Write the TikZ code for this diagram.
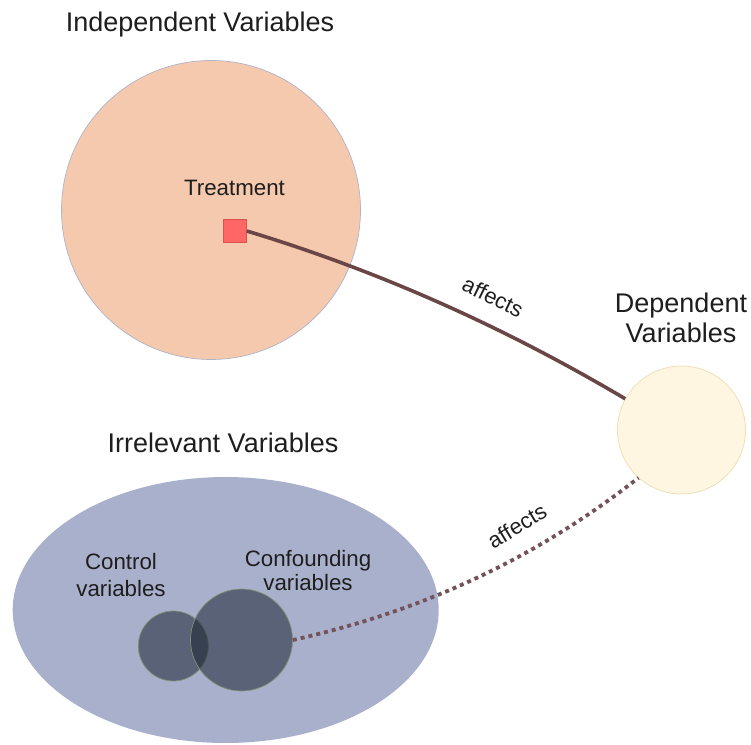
\documentclass[tikz,border=0pt]{standalone}
\usepackage{fontspec}
\setmainfont{Liberation Sans}
\usetikzlibrary{shapes.geometric}

\definecolor{textgray}{HTML}{1E1E1E}
\definecolor{indepfill}{HTML}{F5C9AE}
\definecolor{indepline}{HTML}{AEB3C8}
\definecolor{treatfill}{HTML}{FF6666}
\definecolor{treatline}{HTML}{D9534F}
\definecolor{depfill}{HTML}{FEF6E1}
\definecolor{depline}{HTML}{EADDB0}
\definecolor{irrfill}{HTML}{A9B0CB}
\definecolor{subfill}{HTML}{1C2635}
\definecolor{subline}{HTML}{7F9478}
\definecolor{linkcol}{HTML}{6A4646}
\definecolor{dotcol}{HTML}{74525A}

\begin{document}
\begin{tikzpicture}[x=1pt,y=1pt,
  heading/.style={font=\fontsize{27}{31}\selectfont, text=textgray, anchor=base},
  caption/.style={font=\fontsize{22.3}{26}\selectfont, text=textgray, anchor=base},
  edgelabel/.style={font=\fontsize{22}{26}\selectfont, text=textgray},
  disc/.style={circle, inner sep=0pt, minimum size=#1},
  subset/.style={disc=#1, fill=subfill, fill opacity=0.56, draw=subline, line width=0.7pt},
  link/.style={draw=linkcol, line width=3.6pt},
  dottedlink/.style={draw=dotcol, line width=3.8pt, line cap=butt, dash pattern=on 4pt off 4pt}
]
\useasboundingbox (0,0) rectangle (751,744);

% independent variables
\node[disc=299, fill=indepfill, draw=indepline, line width=0.7pt] (indep) at (211,534) {};
\node[heading] (indeptitle) at (200,712) {Independent Variables};
\node[caption] (treatlabel) at (234.5,548) {Treatment};
\node[rectangle, inner sep=0pt, minimum size=23.5pt, fill=treatfill, draw=treatline, line width=0.7pt] (treat) at (234.7,513) {};

% dependent variables
\node[disc=128, fill=depfill, draw=depline, line width=0.7pt] (dep) at (681.5,314) {};
\node[heading] (deptitleA) at (681,431) {Dependent};
\node[heading] (deptitleB) at (681,401) {Variables};

% irrelevant variables
\node[ellipse, inner sep=0pt, minimum width=426pt, minimum height=266pt, fill=irrfill] (irr) at (225.7,134) {};
\node[heading] (irrtitle) at (223,291) {Irrelevant Variables};
\node[subset=70] (control) at (173.3,98) {};
\node[subset=102] (confound) at (241.5,104) {};
\node[caption] (controlA) at (121,175) {Control};
\node[caption] (controlB) at (121,148) {variables};
\node[caption] (confoundA) at (308,178) {Confounding};
\node[caption] (confoundB) at (308,154) {variables};

% connectors
\draw[link] (treat.east) .. controls (379,473) and (504,417) .. (dep.151);
\node[edgelabel, rotate=-26] (affectsA) at (493,447) {affects};

\draw[dottedlink] (confound.east) .. controls (422,132.7) and (535,185) .. (dep.228);
\node[edgelabel, rotate=31] (affectsB) at (517,218) {affects};
\end{tikzpicture}
\end{document}
